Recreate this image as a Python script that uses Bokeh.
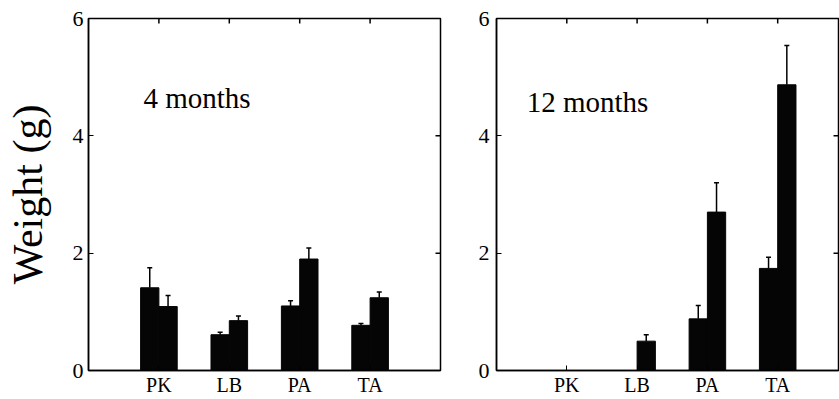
import numpy as np
from bokeh.plotting import figure
from bokeh.layouts import row
from bokeh.models import ColumnDataSource, FixedTicker, Label, Whisker, TeeHead, Range1d
from bokeh.embed import file_html
from bokeh.resources import INLINE

categories = ["PK", "LB", "PA", "TA"]
m4_group1 = [1.41, 0.61, 1.10, 0.77]
m4_group1_err = [0.34, 0.04, 0.09, 0.03]
m4_group2 = [1.09, 0.85, 1.90, 1.24]
m4_group2_err = [0.19, 0.08, 0.19, 0.10]
m12_group1 = [0.0, 0.0, 0.88, 1.74]
m12_group1_err = [0.0, 0.0, 0.23, 0.19]
m12_group2 = [0.0, 0.50, 2.70, 4.87]
m12_group2_err = [0.0, 0.11, 0.50, 0.67]
y_ticks = [0, 2, 4, 6]
panel_titles = ["4 months", "12 months"]

FONT = "Liberation Serif"
OFFSET = 0.13
BAR_W = 0.26
Y_MAX = 6


def make_panel(g1, e1, g2, e2, title, tx, ty, x_end, width, b_left, b_right,
               ylab_standoff, ylabel=None):
    xs = np.arange(1, len(categories) + 1)
    p = figure(width=width, height=399, x_range=Range1d(0, x_end), y_range=Range1d(0, Y_MAX),
               output_backend="svg", toolbar_location=None,
               min_border_left=b_left, min_border_right=b_right,
               min_border_top=18, min_border_bottom=29)
    p.xgrid.visible = False
    p.ygrid.visible = False
    p.outline_line_color = "black"
    p.outline_line_width = 1.5
    p.background_fill_color = "white"
    p.border_fill_color = "white"

    for vals, errs, sign in ((g1, e1, -1), (g2, e2, 1)):
        bx = xs + sign * OFFSET
        p.vbar(x=bx, top=vals, width=BAR_W, fill_color="#050505", line_color="#050505")
        keep = [i for i, v in enumerate(vals) if v > 0]
        src = ColumnDataSource(dict(x=[bx[i] for i in keep],
                                    lower=[vals[i] for i in keep],
                                    upper=[vals[i] + errs[i] for i in keep]))
        p.add_layout(Whisker(source=src, base="x", lower="lower", upper="upper",
                             dimension="height", line_color="black", line_width=1.5,
                             lower_head=None,
                             upper_head=TeeHead(size=5, line_color="black", line_width=1.5)))

    # inward ticks on top and right frame edges
    p.scatter(x=list(xs), y=[Y_MAX] * len(xs), marker="dash", angle=np.pi / 2, size=10,
              line_color="black", line_width=1.5)
    inner = y_ticks[1:-1]
    p.scatter(x=[x_end] * len(inner), y=inner, marker="dash", size=10,
              line_color="black", line_width=1.5)

    xa = p.xaxis[0]
    xa.ticker = FixedTicker(ticks=list(xs))
    xa.major_label_overrides = {int(x): c for x, c in zip(xs, categories)}
    xa.major_tick_in = 5
    xa.major_tick_out = 0
    xa.minor_tick_line_color = None
    xa.major_label_text_font = FONT
    xa.major_label_text_font_size = "20px"
    xa.major_label_text_color = "black"
    xa.major_label_standoff = 3
    xa.axis_line_width = 1.5

    ya = p.yaxis[0]
    ya.ticker = FixedTicker(ticks=y_ticks)
    ya.major_tick_in = 5
    ya.major_tick_out = 0
    ya.minor_tick_line_color = None
    ya.major_label_text_font = FONT
    ya.major_label_text_font_size = "22px"
    ya.major_label_text_color = "black"
    ya.major_label_standoff = ylab_standoff
    ya.axis_line_width = 1.5
    if ylabel:
        ya.axis_label = ylabel
        ya.axis_label_text_font = FONT
        ya.axis_label_text_font_size = "42px"
        ya.axis_label_text_font_style = "normal"
        ya.axis_label_text_color = "black"
        ya.axis_label_standoff = 19

    p.add_layout(Label(x=tx, y=ty, text=title, text_font=FONT, text_font_size="29px",
                       text_color="black", text_baseline="alphabetic"))
    return p


p1 = make_panel(m4_group1, m4_group1_err, m4_group2, m4_group2_err, panel_titles[0],
                0.78, 4.65, 5.0, 468, 88, 28, 5, ylabel="Weight (g)")
p2 = make_panel(m12_group1, m12_group1_err, m12_group2, m12_group2_err, panel_titles[1],
                0.43, 4.57, 4.865, 371, 28, 1, 7)

layout = row(p1, p2)
open("out.html", "w").write(file_html(layout, INLINE))
